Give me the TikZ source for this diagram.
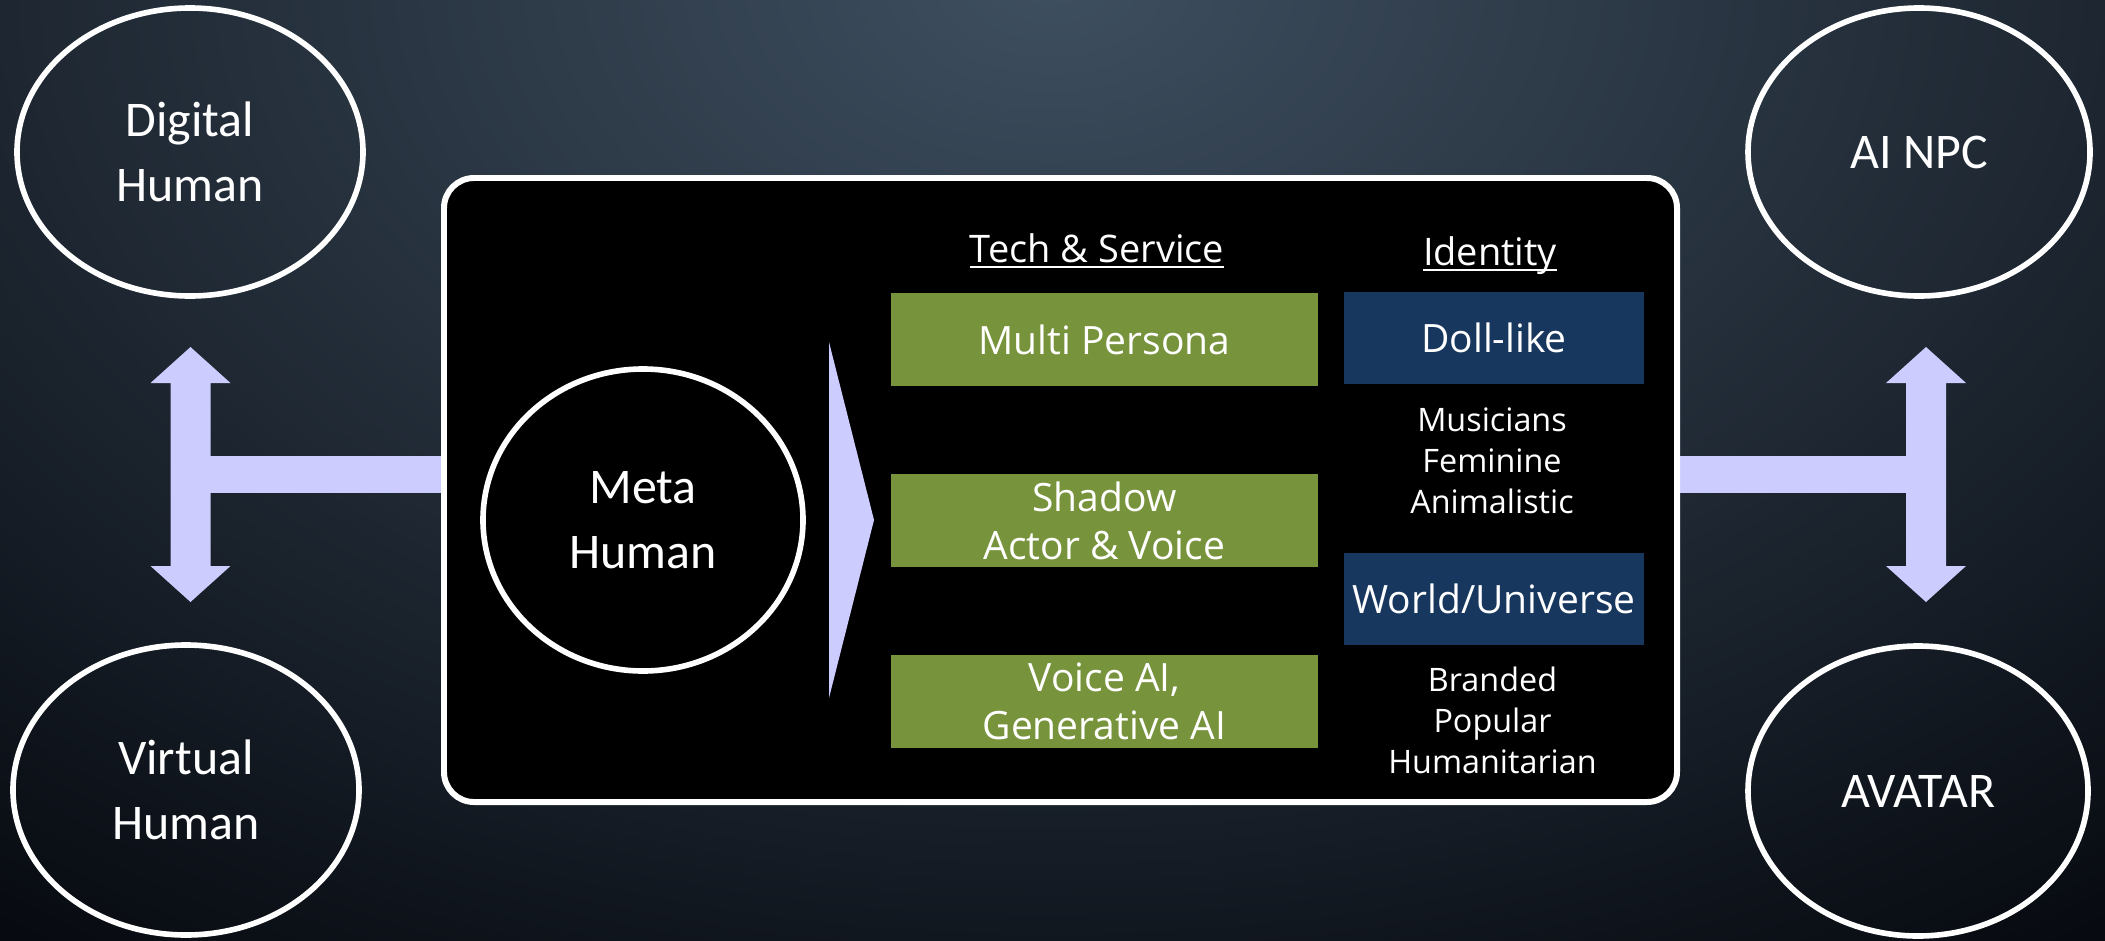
\documentclass[tikz,border=0pt]{standalone}
\usepackage{fontspec}
\setmainfont{Open Sans}
\newfontfamily\calfont{Carlito}
\usetikzlibrary{shapes.geometric}
\definecolor{bgtop}{RGB}{62,79,96}
\definecolor{bgdark}{RGB}{6,9,15}
\definecolor{lav}{RGB}{204,204,255}
\definecolor{techgreen}{RGB}{119,147,60}
\definecolor{identblue}{RGB}{23,55,94}

\begin{document}
\begin{tikzpicture}
      \tikzstyle{oval} = [draw=white, line width=1.6pt, ellipse, text=white, align=center, inner sep=0pt, font=\calfont\fontsize{14.2}{18.4}\selectfont]
      \tikzstyle{techbox} = [fill=techgreen, text=white, align=center, inner sep=0pt, minimum width=4.27cm, minimum height=0.93cm, font=\fontsize{11.1}{13.7}\selectfont]
      \tikzstyle{identbox} = [fill=identblue, text=white, align=center, inner sep=0pt, minimum width=3cm, minimum height=0.92cm, font=\fontsize{11.1}{13.7}\selectfont]
      \tikzstyle{tags} = [text=white, align=center, inner sep=0pt, font=\fontsize{9.2}{11.7}\selectfont]
      \tikzstyle{head} = [text=white, inner sep=0pt, font=\fontsize{10.8}{13}\selectfont]

      \useasboundingbox (0,0) rectangle (21.05,9.40);
      \begin{scope}
        \clip (0,0) rectangle (21.05,9.40);
        \fill[bgdark] (0,0) rectangle (21.05,9.40);
        \shade[inner color=bgtop, outer color=bgdark] (-7.5,-2.4) rectangle (28.5,21.6);
      \end{scope}

      % T arrows on both sides
      \foreach \sx/\bx in {1.905/4.5, 19.26/16.7}{
        \fill[lav] (\sx-0.2,5.57) -- (\sx-0.4,5.57) -- (\sx,5.93) -- (\sx+0.4,5.57) -- (\sx+0.2,5.57)
          -- (\sx+0.2,3.74) -- (\sx+0.4,3.74) -- (\sx,3.38) -- (\sx-0.4,3.74) -- (\sx-0.2,3.74) -- cycle;
        \fill[lav] (\sx,4.47) rectangle (\bx,4.84);
      }

      \node[draw=white, line width=1.7pt, fill=black, rounded corners=0.3cm, inner sep=0pt,
        minimum width=12.33cm, minimum height=6.24cm] (box) at (10.605,4.50) {};

      \node[oval, minimum width=3.46cm, minimum height=2.88cm] (dh) at (1.90,7.88) {Digital\\Human};
      \node[oval, minimum width=3.46cm, minimum height=2.90cm] (vh) at (1.86,1.50) {Virtual\\Human};
      \node[oval, minimum width=3.42cm, minimum height=2.88cm] (npc) at (19.19,7.88) {AI NPC};
      \node[oval, minimum width=3.40cm, minimum height=2.90cm] (avatar) at (19.18,1.49) {AVATAR};
      \node[oval, minimum width=3.20cm, minimum height=3.02cm] (meta) at (6.43,4.20) {Meta\\Human};

      \fill[lav] (8.29,5.98) -- (8.74,4.20) -- (8.29,2.42) -- cycle;

      \node[head, anchor=base] (tech) at (10.97,6.78) {\underline{\smash{Tech \& Service}}};
      \node[head, anchor=base] (ident) at (14.90,6.75) {\underline{\smash{Identity}}};

      \node[techbox] (multi) at (11.045,6.005) {Multi Persona};
      \node[techbox] (shadow) at (11.045,4.195) {Shadow\\Actor \& Voice};
      \node[techbox] (voice) at (11.045,2.385) {Voice AI,\\Generative AI};

      \node[identbox] (doll) at (14.94,6.02) {Doll-like};
      \node[identbox] (world) at (14.94,3.415) {World/Universe};

      \node[tags] (dolltags) at (14.92,4.795) {Musicians\\Feminine\\Animalistic};
      \node[tags] (worldtags) at (14.925,2.20) {Branded\\Popular\\Humanitarian};
\end{tikzpicture}
\end{document}
